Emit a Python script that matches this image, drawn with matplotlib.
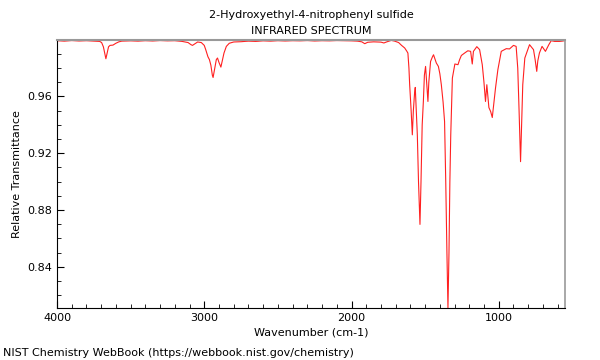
import matplotlib
matplotlib.use("Agg")
import matplotlib.pyplot as plt
from matplotlib.ticker import MultipleLocator

# IR spectrum (wavenumber cm-1, relative transmittance)
wavenumber = [
    4000, 3950, 3900, 3850, 3800, 3750, 3710, 3697, 3685, 3675, 3668, 3660,
    3650, 3640, 3620, 3600, 3580, 3560, 3500, 3450, 3400, 3350, 3300, 3250,
    3200, 3150, 3110, 3090, 3080, 3065, 3045, 3020, 3000, 2990, 2975, 2965,
    2955, 2945, 2940, 2930, 2918, 2910, 2900, 2887, 2878, 2866, 2850, 2830,
    2800, 2750, 2700, 2650, 2600, 2550, 2500, 2450, 2400, 2350, 2300, 2250,
    2200, 2150, 2100, 2050, 2000, 1960, 1930, 1910, 1890, 1850, 1800, 1780,
    1760, 1730, 1707, 1680, 1660, 1639, 1625, 1617, 1610, 1605, 1595, 1587,
    1580, 1572, 1567, 1560, 1553, 1545, 1535, 1528, 1520, 1512, 1505, 1497,
    1490, 1481, 1475, 1463, 1450, 1443, 1435, 1424, 1410, 1400, 1390, 1378,
    1368, 1360, 1352, 1345, 1338, 1332, 1326, 1315, 1298, 1287, 1277, 1266,
    1254, 1232, 1210, 1191, 1180, 1172, 1149, 1130, 1112, 1101, 1090, 1081,
    1067, 1055, 1044, 1030, 1022, 1006, 983, 949, 927, 900, 882, 871,
    862, 852, 845, 837, 823, 791, 764, 753, 742, 735, 724, 706,
    683, 660, 644, 620, 588, 570, 552,
]
transmittance = [
    0.9993, 0.9990, 0.9994, 0.9991, 0.9993, 0.9990, 0.9988, 0.9980, 0.9950, 0.9900, 0.9866, 0.9905,
    0.9950, 0.9960, 0.9962, 0.9975, 0.9985, 0.9990, 0.9992, 0.9990, 0.9993, 0.9991, 0.9994, 0.9992,
    0.9993, 0.9988, 0.9980, 0.9965, 0.9960, 0.9970, 0.9984, 0.9980, 0.9960, 0.9930, 0.9880, 0.9860,
    0.9820, 0.9750, 0.9734, 0.9790, 0.9860, 0.9871, 0.9840, 0.9807, 0.9850, 0.9906, 0.9953, 0.9975,
    0.9984, 0.9986, 0.9990, 0.9988, 0.9992, 0.9990, 0.9993, 0.9991, 0.9993, 0.9992, 0.9994, 0.9991,
    0.9993, 0.9992, 0.9994, 0.9993, 0.9992, 0.9990, 0.9985, 0.9972, 0.9982, 0.9985, 0.9983, 0.9977,
    0.9985, 0.9995, 0.9990, 0.9980, 0.9960, 0.9942, 0.9920, 0.9906, 0.9800, 0.9683, 0.9500, 0.9330,
    0.9500, 0.9620, 0.9664, 0.9500, 0.9330, 0.9000, 0.8699, 0.9000, 0.9400, 0.9565, 0.9750, 0.9812,
    0.9700, 0.9565, 0.9700, 0.9847, 0.9880, 0.9894, 0.9870, 0.9836, 0.9812, 0.9760, 0.9683, 0.9560,
    0.9424, 0.9000, 0.8500, 0.8110, 0.8500, 0.9000, 0.9330, 0.9730, 0.9829, 0.9826, 0.9824, 0.9859,
    0.9889, 0.9906, 0.9922, 0.9918, 0.9829, 0.9918, 0.9951, 0.9930, 0.9824, 0.9706, 0.9565, 0.9683,
    0.9522, 0.9494, 0.9452, 0.9589, 0.9660, 0.9789, 0.9918, 0.9937, 0.9935, 0.9960, 0.9953, 0.9800,
    0.9500, 0.9141, 0.9400, 0.9683, 0.9871, 0.9965, 0.9930, 0.9860, 0.9777, 0.9850, 0.9906, 0.9953,
    0.9918, 0.9965, 0.9993, 0.9988, 0.9988, 0.9990, 0.9993,
]

title = "2-Hydroxyethyl-4-nitrophenyl sulfide\nINFRARED SPECTRUM"
credit = "NIST Chemistry WebBook (https://webbook.nist.gov/chemistry)"

fig = plt.figure(figsize=(6, 3.6), dpi=100)
ax = fig.add_axes([0.095, 0.1444, 0.8467, 0.7445])

ax.plot(wavenumber, transmittance, color="#ff2020", lw=0.8)

# limits follow the data, like the NIST plots
ax.set_xlim(4000, 550)
ax.set_ylim(min(transmittance), max(transmittance) + 0.0003)

ax.xaxis.set_major_locator(MultipleLocator(1000))
ax.xaxis.set_minor_locator(MultipleLocator(100))
ax.yaxis.set_major_locator(MultipleLocator(0.04))
ax.yaxis.set_minor_locator(MultipleLocator(0.01))
ax.yaxis.set_major_formatter(plt.FormatStrFormatter("%.2f"))

ax.tick_params(which="both", direction="in", labelsize=8, top=False, right=False)
ax.tick_params(which="major", length=5)
ax.tick_params(which="minor", length=3)

ax.spines["top"].set_color("#999999")
ax.spines["top"].set_linewidth(1.5)
ax.spines["right"].set_color("#999999")
ax.spines["right"].set_linewidth(1.2)

ax.set_xlabel("Wavenumber (cm-1)", fontsize=8, labelpad=3)
ax.set_ylabel("Relative Transmittance", fontsize=8)
ax.set_title(title, fontsize=8, linespacing=1.85, pad=4)

fig.text(0.005, 0.012, credit, fontsize=8, ha="left")

fig.savefig("out.png", dpi=100)
